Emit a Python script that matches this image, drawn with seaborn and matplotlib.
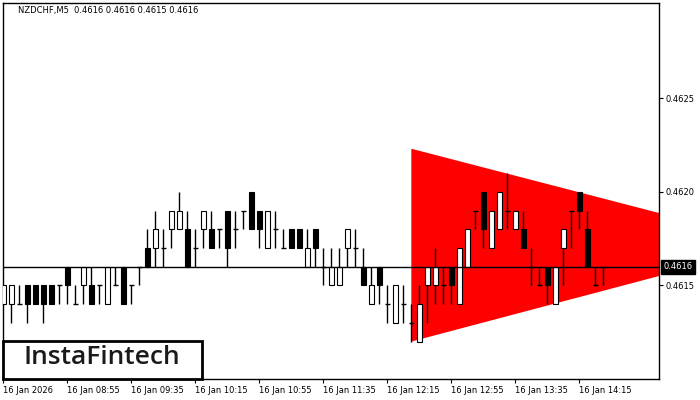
import numpy as np
import pandas as pd
import seaborn as sns
import matplotlib.pyplot as plt
from matplotlib.patches import Rectangle

symbol = 'NZDCHF,M5'
last_quote = ['0.4616', '0.4616', '0.4615', '0.4616']

# M5 candles from 16 Jan 2026 08:15
opens = [0.4614, 0.4614, 0.4614, 0.4615, 0.4615, 0.4615, 0.4615, 0.4615, 0.4616, 0.4614,
         0.4615, 0.4615, 0.4615, 0.4614, 0.4615, 0.4616, 0.4615, 0.4616, 0.4617, 0.4617,
         0.4617, 0.4618, 0.4618, 0.4618, 0.4617, 0.4618, 0.4618, 0.4618, 0.4619, 0.4618,
         0.4619, 0.4620, 0.4619, 0.4617, 0.4618, 0.4617, 0.4618, 0.4618, 0.4616, 0.4618,
         0.4616, 0.4615, 0.4615, 0.4617, 0.4617, 0.4616, 0.4614, 0.4616, 0.4614, 0.4613,
         0.4614, 0.4613, 0.4612, 0.4615, 0.4615, 0.4615, 0.4616, 0.4614, 0.4616, 0.4619,
         0.4620, 0.4617, 0.4618, 0.4619, 0.4618, 0.4618, 0.4616, 0.4615, 0.4616, 0.4614,
         0.4617, 0.4619, 0.4620, 0.4618, 0.4615, 0.4616]
highs = [0.4615, 0.4615, 0.4615, 0.4615, 0.4615, 0.4615, 0.4615, 0.4615, 0.4616, 0.4615,
         0.4616, 0.4616, 0.4615, 0.4616, 0.4616, 0.4616, 0.4615, 0.4616, 0.4618, 0.4619,
         0.4618, 0.4619, 0.4620, 0.4619, 0.4618, 0.4619, 0.4619, 0.4618, 0.4619, 0.4619,
         0.4619, 0.4620, 0.4619, 0.4619, 0.4619, 0.4618, 0.4618, 0.4618, 0.4618, 0.4618,
         0.4617, 0.4617, 0.4617, 0.4618, 0.4618, 0.4617, 0.4616, 0.4616, 0.4615, 0.4615,
         0.4615, 0.4614, 0.4615, 0.4616, 0.4617, 0.4616, 0.4616, 0.4617, 0.4618, 0.4619,
         0.4620, 0.4619, 0.4620, 0.4621, 0.4619, 0.4619, 0.4617, 0.4616, 0.4616, 0.4616,
         0.4618, 0.4619, 0.4620, 0.4619, 0.4616, 0.4616]
lows = [0.4614, 0.4613, 0.4614, 0.4613, 0.4614, 0.4613, 0.4614, 0.4614, 0.4614, 0.4614,
        0.4614, 0.4614, 0.4614, 0.4614, 0.4615, 0.4614, 0.4614, 0.4615, 0.4616, 0.4616,
        0.4616, 0.4617, 0.4618, 0.4616, 0.4616, 0.4617, 0.4617, 0.4617, 0.4616, 0.4617,
        0.4618, 0.4618, 0.4617, 0.4617, 0.4617, 0.4617, 0.4617, 0.4617, 0.4616, 0.4616,
        0.4615, 0.4615, 0.4615, 0.4616, 0.4616, 0.4615, 0.4614, 0.4614, 0.4613, 0.4613,
        0.4613, 0.4612, 0.4612, 0.4613, 0.4614, 0.4614, 0.4614, 0.4614, 0.4616, 0.4618,
        0.4617, 0.4617, 0.4618, 0.4618, 0.4618, 0.4617, 0.4615, 0.4615, 0.4614, 0.4614,
        0.4615, 0.4617, 0.4618, 0.4616, 0.4615, 0.4615]
closes = [0.4615, 0.4615, 0.4614, 0.4614, 0.4614, 0.4614, 0.4614, 0.4615, 0.4615, 0.4614,
          0.4616, 0.4614, 0.4615, 0.4616, 0.4615, 0.4614, 0.4615, 0.4616, 0.4616, 0.4618,
          0.4617, 0.4619, 0.4619, 0.4616, 0.4617, 0.4619, 0.4617, 0.4618, 0.4617, 0.4618,
          0.4619, 0.4618, 0.4618, 0.4619, 0.4618, 0.4617, 0.4617, 0.4617, 0.4617, 0.4617,
          0.4616, 0.4616, 0.4616, 0.4618, 0.4617, 0.4615, 0.4615, 0.4615, 0.4614, 0.4615,
          0.4614, 0.4613, 0.4614, 0.4616, 0.4616, 0.4615, 0.4615, 0.4617, 0.4618, 0.4619,
          0.4618, 0.4619, 0.4620, 0.4619, 0.4619, 0.4617, 0.4616, 0.4615, 0.4615, 0.4616,
          0.4618, 0.4619, 0.4619, 0.4616, 0.4615, 0.4616]

time_labels = ['16 Jan 2026', '16 Jan 08:55', '16 Jan 09:35', '16 Jan 10:15', '16 Jan 10:55',
               '16 Jan 11:35', '16 Jan 12:15', '16 Jan 12:55', '16 Jan 13:35', '16 Jan 14:15']
price_ticks = [0.4615, 0.4620, 0.4625]
current_price = 0.4616

# symmetrical triangle: two left corners and apex (bar index, price)
triangle_bars = [51, 51, 97]
triangle_prices = [0.46223, 0.46120, 0.46172]

df = pd.DataFrame({'open': opens, 'high': highs, 'low': lows, 'close': closes})
df['time'] = pd.date_range('2026-01-16 08:15', periods=len(df), freq='5min')
df['bar'] = np.arange(len(df))
df['up'] = df['close'] > df['open']
df['doji'] = np.isclose(df['close'], df['open'])

sns.set_style('white')
plt.rcParams['font.family'] = ['DejaVu Sans']

fig = plt.figure(figsize=(7, 4), dpi=100)
ax = fig.add_axes([2.7 / 700, 21 / 400, 656.3 / 700, 376.3 / 400])

ax.fill(triangle_bars, triangle_prices, color='#ff0000', zorder=1, lw=0)

w = 0.6
ax.vlines(df['bar'], df['low'], df['high'], color='black', lw=1, zorder=3)
body = df[~df['doji']]
ax.bar(body['bar'], (body['close'] - body['open']).abs(),
       bottom=body[['open', 'close']].min(axis=1), width=w,
       color=np.where(body['up'], 'white', 'black'), edgecolor='black',
       linewidth=0.8, zorder=4)
doji = df[df['doji']]
ax.hlines(doji['open'], doji['bar'] - w / 2, doji['bar'] + w / 2,
          color='black', lw=1, zorder=4)

ax.axhline(current_price, color='black', lw=1, zorder=5)

ax.set_xlim(-0.075, 81.96)
ax.set_ylim(0.46100, 0.46301)

ax.set_xticks(df['bar'][::8])
ax.set_xticklabels(time_labels, ha='left', fontsize=6)
ax.yaxis.tick_right()
ax.set_yticks(price_ticks)
ax.set_yticklabels([f'{p:.4f}' for p in price_ticks], fontsize=6)
ax.tick_params(axis='both', direction='out', length=3, width=0.8, color='black',
               pad=2, labelcolor='black')
ax.tick_params(axis='x', bottom=True)
ax.tick_params(axis='y', right=True, left=False)
for s in ax.spines.values():
    s.set_color('black')
    s.set_linewidth(1)

ax.annotate(f'{current_price:.4f}', xy=(1, current_price), xycoords=('axes fraction', 'data'),
            xytext=(3, 0), textcoords='offset points', va='center', ha='left',
            fontsize=6, color='white',
            bbox=dict(boxstyle='square,pad=0.3', fc='black', ec='black'))

fig.text(18 / 700, 1 - 11 / 400, f"{symbol}  {' '.join(last_quote)}",
         fontsize=6, va='center', ha='left', color='black')

fig.patches.append(Rectangle((2.7 / 700, 21 / 400), 199 / 700, 38 / 400,
                             transform=fig.transFigure, facecolor='white',
                             edgecolor='black', linewidth=2, zorder=10))
fig.text(102 / 700, 1 - 358 / 400, 'InstaFintech', fontsize=19, fontweight='semibold',
         family=['Open Sans', 'DejaVu Sans'], color='#1a1a1a',
         ha='center', va='center', zorder=11)

fig.savefig('out.png', dpi=100)
